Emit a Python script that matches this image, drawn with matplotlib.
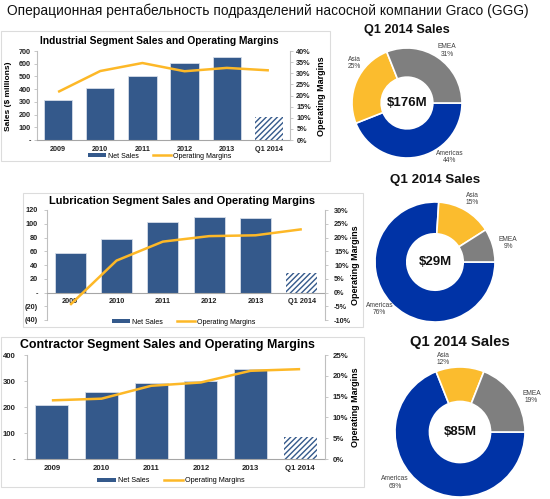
import matplotlib
matplotlib.use("Agg")
import matplotlib.pyplot as plt
from matplotlib.patches import Rectangle, Patch
from matplotlib.lines import Line2D

plt.rcParams['font.family'] = ['Liberation Sans', 'DejaVu Sans']
plt.rcParams['hatch.linewidth'] = 1.0

# ---------------- data ----------------
years = ['2009', '2010', '2011', '2012', '2013', 'Q1 2014']

ind_sales = [315, 410, 500, 602, 652, 178]
ind_margins = [21.6, 31.0, 34.6, 30.9, 32.4, 31.3]
ind_yticks = [0, 100, 200, 300, 400, 500, 600, 700]
ind_yticklabels = ['-', '100', '200', '300', '400', '500', '600', '700']
ind_y2ticks = [0, 5, 10, 15, 20, 25, 30, 35, 40]
ind_y2ticklabels = ['0%', '5%', '10%', '15%', '20%', '25%', '30%', '35%', '40%']

lub_sales = [58, 78, 103, 110, 109, 29]
lub_margins = [-4.5, 11.6, 18.5, 20.5, 20.8, 23.0]
lub_yticks = [-40, -20, 0, 20, 40, 60, 80, 100, 120]
lub_yticklabels = ['(40)', '(20)', '-', '20', '40', '60', '80', '100', '120']
lub_y2ticks = [-10, -5, 0, 5, 10, 15, 20, 25, 30]
lub_y2ticklabels = ['-10%', '-5%', '0%', '5%', '10%', '15%', '20%', '25%', '30%']

con_sales = [209, 258, 294, 301, 345, 86]
con_margins = [14.1, 14.5, 17.6, 18.4, 21.2, 21.6]
con_yticks = [0, 100, 200, 300, 400]
con_yticklabels = ['-', '100', '200', '300', '400']
con_y2ticks = [0, 5, 10, 15, 20, 25]
con_y2ticklabels = ['0%', '5%', '10%', '15%', '20%', '25%']

regions = ['Americas', 'Asia', 'EMEA']
ind_share = [44, 25, 31]
lub_share = [76, 15, 9]
con_share = [69, 12, 19]
ind_total = '$176M'
lub_total = '$29M'
con_total = '$85M'

# ---------------- styles ----------------
BAR = '#34598b'
LINE = '#fdb827'
PIE_COLORS = ['#0033a6', '#fbbc2e', '#7f7f7f']
SPINE = '#bfbfbf'

W, H = 550, 499
fig = plt.figure(figsize=(W / 100, H / 100), dpi=100)
fig.patch.set_facecolor('white')


def R(x0, y0, x1, y1):
    return [x0 / W, 1 - y1 / H, (x1 - x0) / W, (y1 - y0) / H]


def P(x, y):
    return (x / W, 1 - y / H)


def frame(x0, y0, x1, y1):
    fig.patches.append(Rectangle(P(x0, y1), (x1 - x0) / W, (y1 - y0) / H,
                                 transform=fig.transFigure, fill=False,
                                 edgecolor='#dcdcdc', linewidth=0.8))


def segment(rect, sales, margins, ylim, yt, ytl, y2lim, y2t, y2tl,
            tick_fs, lpad, rpad, zero_spine=False):
    ax = fig.add_axes(R(*rect))
    x = list(range(len(years)))
    ax.bar(x[:-1], sales[:-1], width=0.67, color=BAR,
           edgecolor='#d5dde8', linewidth=0.6, zorder=2)
    ax.bar(x[-1:], sales[-1:], width=0.67, color='white', edgecolor=BAR,
           hatch='//////', linewidth=0, zorder=2)
    ax.set_xlim(-0.5, len(years) - 0.5)
    ax.set_ylim(*ylim)
    ax.set_yticks(yt)
    ax.set_yticklabels(ytl)
    ax.set_xticks(x)
    ax.set_xticklabels(years)
    for s in ['top', 'right']:
        ax.spines[s].set_visible(False)
    ax.spines['left'].set_color(SPINE)
    ax.spines['left'].set_linewidth(0.8)
    ax.spines['bottom'].set_color('#a6a6a6')
    ax.spines['bottom'].set_linewidth(0.8)
    if zero_spine:
        ax.spines['bottom'].set_position(('data', 0))
    ax.tick_params(axis='x', length=0, pad=4, labelsize=tick_fs)
    ax.tick_params(axis='y', length=2.5, width=0.6, color=SPINE,
                   pad=lpad, labelsize=tick_fs)
    for lab in ax.get_xticklabels() + ax.get_yticklabels():
        lab.set_fontweight('bold')
        lab.set_color('#222222')

    ax2 = ax.twinx()
    ax2.plot(x, margins, color=LINE, linewidth=1.8, solid_capstyle='butt')
    ax2.set_ylim(*y2lim)
    ax2.set_yticks(y2t)
    ax2.set_yticklabels(y2tl)
    for s in ['top', 'left', 'bottom']:
        ax2.spines[s].set_visible(False)
    ax2.spines['right'].set_color(SPINE)
    ax2.spines['right'].set_linewidth(0.8)
    ax2.tick_params(axis='y', length=2.5, width=0.6, color=SPINE,
                    pad=rpad, labelsize=tick_fs)
    for lab in ax2.get_yticklabels():
        lab.set_fontweight('bold')
        lab.set_color('#222222')
    return ax, ax2


def legend(cx, cy, fs):
    handles = [Patch(facecolor=BAR, edgecolor='none'),
               Line2D([0], [0], color=LINE, linewidth=1.8)]
    fig.legend(handles, ['Net Sales', 'Operating Margins'], loc='center',
               bbox_to_anchor=P(cx, cy), ncol=2, frameon=False,
               fontsize=fs, handlelength=2.6, handleheight=0.45,
               columnspacing=2.0, handletextpad=0.3)


def donut(cx, cy, r, shares, total, label_offsets, title, title_y, title_fs):
    ax = fig.add_axes(R(cx - r, cy - r, cx + r, cy + r))
    ax.pie(shares, colors=PIE_COLORS, startangle=0, counterclock=False,
           radius=1.0,
           wedgeprops=dict(width=0.53, edgecolor='white', linewidth=1.2))
    ax.set_xlim(-1, 1)
    ax.set_ylim(-1, 1)
    ax.set_aspect('equal')
    ax.axis('off')
    ax.text(0, 0, total, ha='center', va='center', fontsize=9.5,
            fontweight='bold', color='#111111')
    for name, val, (dx, dy) in zip(regions, shares, label_offsets):
        ax.text(dx, dy, f'{name}\n{val}%', ha='center', va='center',
                fontsize=4.8, color='#404040', linespacing=1.1)
    fig.text(*P(cx, title_y), title, ha='center', va='center',
             fontsize=title_fs, fontweight='bold', color='#111111')


# ---------------- main title ----------------
fig.text(*P(7, 11), 'Операционная рентабельность подразделений насосной компании Graco (GGG)',
         ha='left', va='center', fontsize=9.9, color='#111111')

# ---------------- panel frames ----------------
frame(1, 31, 330, 161)
frame(23, 193, 363, 327)
frame(1, 337, 364, 487)

# ---------------- Industrial ----------------
segment((37, 51, 290, 140), ind_sales, ind_margins, (0, 700), ind_yticks,
        ind_yticklabels, (0, 40), ind_y2ticks, ind_y2ticklabels,
        tick_fs=5.2, lpad=2, rpad=2)
fig.text(*P(159, 41), 'Industrial Segment Sales and Operating Margins',
         ha='center', va='center', fontsize=7.4, fontweight='bold')
fig.text(*P(9, 96), 'Sales ($ millions)', rotation=90, ha='center',
         va='center', fontsize=6, fontweight='bold')
fig.text(*P(322, 96), 'Operating Margins', rotation=90, ha='center',
         va='center', fontsize=6.5, fontweight='bold')
legend(160, 156, 5.0)

# ---------------- Lubrication ----------------
segment((47, 210, 325, 320), lub_sales, lub_margins, (-40, 120), lub_yticks,
        lub_yticklabels, (-10, 30), lub_y2ticks, lub_y2ticklabels,
        tick_fs=5.3, lpad=4, rpad=4, zero_spine=True)
fig.text(*P(182, 201), 'Lubrication Segment Sales and Operating Margins',
         ha='center', va='center', fontsize=7.9, fontweight='bold')
fig.text(*P(355, 265), 'Operating Margins', rotation=90, ha='center',
         va='center', fontsize=6.5, fontweight='bold')
legend(184, 322, 5.0)

# ---------------- Contractor ----------------
segment((27, 355, 325, 459), con_sales, con_margins, (0, 400), con_yticks,
        con_yticklabels, (0, 25), con_y2ticks, con_y2ticklabels,
        tick_fs=5.6, lpad=6, rpad=3)
fig.text(*P(167, 345), 'Contractor Segment Sales and Operating Margins',
         ha='center', va='center', fontsize=8.9, fontweight='bold')
fig.text(*P(355, 407), 'Operating Margins', rotation=90, ha='center',
         va='center', fontsize=6.5, fontweight='bold')
legend(171, 481, 5.2)

# ---------------- Donuts ----------------
donut(407, 103, 55, ind_share, ind_total,
      [(0.78, -0.98), (-0.95, 0.73), (0.73, 0.95)],
      'Q1 2014 Sales', 30, 9.2)
donut(435, 262, 60, lub_share, lub_total,
      [(-0.92, -0.78), (0.62, 1.05), (1.22, 0.32)],
      'Q1 2014 Sales', 180, 9.6)
donut(460, 432, 65, con_share, con_total,
      [(-1.0, -0.78), (-0.26, 1.12), (1.1, 0.54)],
      'Q1 2014 Sales', 342, 10.7)

fig.savefig('out.png', dpi=100, facecolor='white')
